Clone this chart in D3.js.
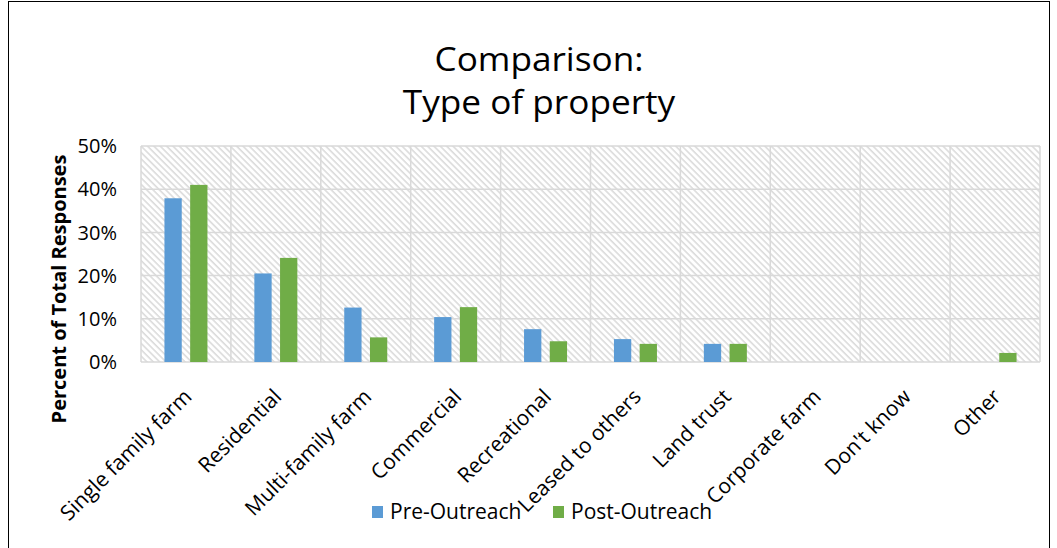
<!DOCTYPE html>
<html>
<head>
<meta charset="utf-8">
<script src="https://cdn.jsdelivr.net/npm/d3@7"></script>
<style>
  html, body { margin: 0; padding: 0; background: #fff; }
  svg { display: block; font-family: "Open Sans", sans-serif; }
</style>
</head>
<body>
<svg id="chart" width="1057" height="548"></svg>
<script>
const categories = ["Single family farm", "Residential", "Multi-family farm", "Commercial", "Recreational", "Leased to others", "Land trust", "Corporate farm", "Don't know", "Other"];
const preOutreach = [37.9, 20.5, 12.6, 10.4, 7.6, 5.3, 4.2, 0, 0, 0];
const postOutreach = [41.0, 24.1, 5.7, 12.7, 4.8, 4.2, 4.2, 0, 0, 2.1];
const seriesNames = ["Pre-Outreach", "Post-Outreach"];
const seriesColors = ["#5b9bd5", "#70ad47"];
const yTicks = [0, 10, 20, 30, 40, 50];
const titleLines = ["Comparison:", "Type of property"];
const yTitle = "Percent of Total Responses";

const svg = d3.select("#chart");
const plot = { left: 141, right: 1040, top: 146, bottom: 362 };

// outer border
svg.append("rect").attr("x", 8.5).attr("y", 1.5).attr("width", 1041).attr("height", 600)
  .attr("fill", "none").attr("stroke", "#000").attr("stroke-width", 1);

// hatch pattern
const defs = svg.append("defs");
const pat = defs.append("pattern").attr("id", "hatch").attr("patternUnits", "userSpaceOnUse")
  .attr("width", 4.5).attr("height", 4.5).attr("patternTransform", "rotate(-45)");
pat.append("rect").attr("width", 4.5).attr("height", 4.5).attr("fill", "#fff");
pat.append("line").attr("x1", 1).attr("y1", 0).attr("x2", 1).attr("y2", 4.5)
  .attr("stroke", "#d9d9d9").attr("stroke-width", 1.5);

const x = d3.scaleBand().domain(categories).range([plot.left, plot.right]).padding(0);
const xs = d3.scaleBand().domain(seriesNames).range([-21.5, 21.5]).paddingInner(0.327).paddingOuter(0);
const y = d3.scaleLinear().domain([0, 50]).range([plot.bottom, plot.top]);

svg.append("rect").attr("x", plot.left).attr("y", plot.top)
  .attr("width", plot.right - plot.left).attr("height", plot.bottom - plot.top)
  .attr("fill", "url(#hatch)");

// grid lines
const grid = svg.append("g").attr("stroke", "#d9d9d9").attr("stroke-width", 1.5);
grid.selectAll("line.h").data(yTicks).join("line").attr("class", "h")
  .attr("x1", plot.left).attr("x2", plot.right).attr("y1", d => y(d)).attr("y2", d => y(d));
const vb = categories.map(c => x(c)).concat([plot.right]);
grid.selectAll("line.v").data(vb).join("line").attr("class", "v")
  .attr("x1", d => d).attr("x2", d => d).attr("y1", plot.top).attr("y2", plot.bottom);

// bars
const data = [preOutreach, postOutreach];
data.forEach((vals, si) => {
  svg.append("g").selectAll("rect").data(vals).join("rect")
    .attr("x", (d, i) => x(categories[i]) + x.bandwidth() / 2 + xs(seriesNames[si]))
    .attr("width", xs.bandwidth())
    .attr("y", d => y(d))
    .attr("height", d => y(0) - y(d))
    .attr("fill", seriesColors[si]);
});

// y tick labels
svg.append("g").selectAll("text").data(yTicks).join("text")
  .attr("x", 117).attr("y", d => y(d)).attr("dy", "0.36em")
  .attr("text-anchor", "end").attr("font-size", 20).attr("fill", "#000")
  .text(d => d + "%");

// x labels
svg.append("g").selectAll("text").data(categories).join("text")
  .attr("transform", d => `translate(${x(d) + x.bandwidth() / 2 + 7},${398}) rotate(-45)`)
  .attr("text-anchor", "end").attr("font-size", 21).attr("fill", "#000")
  .text(d => d);

// y title
svg.append("text").attr("transform", "translate(66,289) rotate(-90)")
  .attr("text-anchor", "middle").attr("font-size", 20).attr("font-weight", "bold")
  .text(yTitle);

// title
svg.append("g").attr("transform", "translate(539,0) scale(1.1,1)")
  .selectAll("text").data(titleLines).join("text")
  .attr("x", 0).attr("y", (d, i) => 71 + i * 43)
  .attr("text-anchor", "middle").attr("font-size", 32).attr("fill", "#000")
  .text(d => d);

// legend
const legendX = [372, 553];
const lg = svg.append("g");
seriesNames.forEach((s, i) => {
  lg.append("rect").attr("x", legendX[i]).attr("y", 506).attr("width", 11).attr("height", 12)
    .attr("fill", seriesColors[i]);
  lg.append("text").attr("x", legendX[i] + 18).attr("y", 519)
    .attr("font-size", 21).attr("fill", "#000").text(s);
});
</script>
</body>
</html>
